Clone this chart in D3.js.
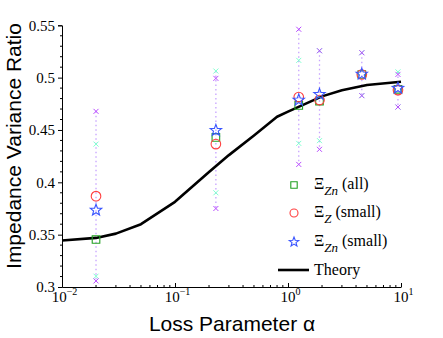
<!DOCTYPE html>
<html lang="en">
<head>
<meta charset="UTF-8">
<title>Impedance Variance Ratio</title>
<script src="https://cdn.jsdelivr.net/npm/d3@7"></script>
<style>
  body { margin: 0; background: #fff; }
  svg text { font-family: "Liberation Serif", "DejaVu Serif", serif; }
  svg text.axis-label { font-family: "Liberation Sans", "DejaVu Sans", sans-serif; }
</style>
</head>
<body>
<svg id="chart" width="443" height="338"></svg>
<script>
// loss parameter alpha for each measured set
var alphas = [0.02, 0.23, 1.245, 1.9, 4.5, 9.4];

// mean ratios
var xiZnAll   = [0.3454, 0.4429, 0.4735, 0.4776, 0.5030, 0.4888];
var xiZSmall  = [0.3868, 0.4365, 0.4814, 0.4786, 0.5030, 0.4881];
var xiZnSmall = [0.3734, 0.4496, 0.4786, 0.4840, 0.5034, 0.4899];

// spread of the samples (crosses)
var cyanHi = [0.4365, 0.5063, 0.5165, 0.5257, 0.5238, 0.5055];
var cyanLo = [0.3103, 0.3900, 0.4372, 0.4398, 0.4828, 0.4719];
var magHi  = [0.4678, 0.4993, 0.5462, 0.5257, 0.5238, 0.5031];
var magLo  = [0.3058, 0.3750, 0.4171, 0.4315, 0.4828, 0.4719];

// theory curve
var theoryAlpha = [0.01, 0.02, 0.03, 0.05, 0.1, 0.2, 0.3, 0.5, 0.8, 1, 2, 3, 5, 10];
var theoryRatio = [0.3444, 0.3469, 0.3510, 0.3600, 0.3814, 0.4098, 0.4260, 0.4447, 0.4626, 0.4675, 0.4821, 0.4879, 0.4929, 0.4961];

var yTicks = [0.3, 0.35, 0.4, 0.45, 0.5, 0.55];
var xTicks = [0.01, 0.1, 1, 10];
var xTickExp = ["\u22122", "\u22121", "0", "1"];

var svg = d3.select("#chart");

var xs = d3.scaleLog().domain([0.01, 10]).range([62, 401]);
var ys = d3.scaleLinear().domain([0.3, 0.55]).range([287, 25.3]);

// y axis, ticks outward
var yAxis = svg.append("g")
    .attr("transform", "translate(62,0)")
    .call(d3.axisLeft(ys).tickValues(yTicks).tickSize(4).tickPadding(3)
        .tickFormat(function(d) { return String(+d.toFixed(2)); }));
yAxis.attr("font-family", null).attr("font-size", 15);
yAxis.selectAll(".tick text").attr("fill", "#000");
yAxis.select(".domain").attr("stroke", "#000");
var yMinor = d3.range(0.31, 0.55, 0.01).filter(function(v) {
    return Math.abs(v * 20 - Math.round(v * 20)) > 1e-6;
});
yAxis.selectAll("line.minor").data(yMinor).enter().append("line")
    .attr("class", "minor")
    .attr("x1", 0).attr("x2", -2)
    .attr("y1", function(d) { return ys(d); })
    .attr("y2", function(d) { return ys(d); })
    .attr("stroke", "#000");

// x axis, ticks inward
var xAxis = svg.append("g")
    .attr("transform", "translate(0,287)")
    .call(d3.axisBottom(xs).tickValues(xTicks).tickSizeInner(-4).tickSizeOuter(0).tickFormat(""));
xAxis.attr("font-family", null).attr("font-size", 15);
xAxis.select(".domain").attr("stroke", "#000");
xAxis.selectAll(".tick text").remove();
var xMinor = [];
[0.01, 0.1, 1].forEach(function(dec) {
    for (var k = 2; k <= 9; k++) xMinor.push(dec * k);
});
xAxis.selectAll("line.minor").data(xMinor).enter().append("line")
    .attr("class", "minor")
    .attr("x1", function(d) { return xs(d); })
    .attr("x2", function(d) { return xs(d); })
    .attr("y1", 0).attr("y2", -2)
    .attr("stroke", "#000");

var xLab = xAxis.selectAll(".tick").append("text")
    .attr("y", 15)
    .attr("x", 2)
    .attr("text-anchor", "middle")
    .attr("fill", "#000");
xLab.append("tspan").text("10");
xLab.append("tspan")
    .attr("font-size", 10)
    .attr("dy", -7)
    .text(function(d, i) { return xTickExp[i]; });

// axis titles
svg.append("text")
    .attr("class", "axis-label")
    .attr("x", 232).attr("y", 331)
    .attr("text-anchor", "middle")
    .attr("font-size", 21)
    .text("Loss Parameter \u03b1");

svg.append("text")
    .attr("class", "axis-label")
    .attr("transform", "translate(20.5,146) rotate(-90)")
    .attr("text-anchor", "middle")
    .attr("font-size", 21)
    .text("Impedance Variance Ratio");

var plot = svg.append("g");

// dotted spread lines
plot.selectAll("line.spread").data(alphas).enter().append("line")
    .attr("class", "spread")
    .attr("x1", function(d) { return xs(d); })
    .attr("x2", function(d) { return xs(d); })
    .attr("y1", function(d, i) { return ys(Math.max(cyanHi[i], magHi[i])); })
    .attr("y2", function(d, i) { return ys(Math.min(cyanLo[i], magLo[i])); })
    .attr("stroke", "#c7a3ff")
    .attr("stroke-width", 1.3)
    .attr("stroke-dasharray", "1.5,3");

// theory curve
var line = d3.line()
    .x(function(d) { return xs(d[0]); })
    .y(function(d) { return ys(d[1]); });
plot.append("path")
    .datum(d3.zip(theoryAlpha, theoryRatio))
    .attr("d", line)
    .attr("fill", "none")
    .attr("stroke", "#000")
    .attr("stroke-width", 2.6)
    .attr("stroke-linejoin", "round");

function crosses(vals, color) {
    plot.append("g").selectAll("path").data(vals).enter().append("path")
        .attr("transform", function(d, i) { return "translate(" + xs(alphas[i]) + "," + ys(d) + ")"; })
        .attr("d", "M-2.5,-2.5L2.5,2.5M-2.5,2.5L2.5,-2.5")
        .attr("stroke", color)
        .attr("stroke-width", 1)
        .attr("fill", "none");
}
crosses(cyanHi, "#7fffd0");
crosses(cyanLo, "#7fffd0");
crosses(magHi, "#b94cff");
crosses(magLo, "#b94cff");

function starPath(r) {
    var pts = [];
    for (var k = 0; k < 10; k++) {
        var rr = k % 2 === 0 ? r : r * 0.42;
        var a = -Math.PI / 2 + k * Math.PI / 5;
        pts.push([rr * Math.cos(a), rr * Math.sin(a)]);
    }
    return "M" + pts.map(function(p) { return p[0].toFixed(2) + "," + p[1].toFixed(2); }).join("L") + "Z";
}

function shapePath(shape, s) {
    if (shape === "square") return "M" + (-s) + "," + (-s) + "h" + (2 * s) + "v" + (2 * s) + "h" + (-2 * s) + "Z";
    if (shape === "circle") return d3.arc()({innerRadius: 0, outerRadius: s, startAngle: 0, endAngle: 2 * Math.PI});
    return starPath(s);
}

function markers(vals, shape, color, size) {
    plot.append("g").selectAll("path").data(vals).enter().append("path")
        .attr("transform", function(d, i) { return "translate(" + xs(alphas[i]) + "," + ys(d) + ")"; })
        .attr("d", shapePath(shape, size))
        .attr("stroke", color)
        .attr("stroke-width", 1.1)
        .attr("fill", "none");
}

markers(xiZnAll, "square", "#22a022", 3.8);
markers(xiZSmall, "circle", "#ff4040", 4.8);
markers(xiZnSmall, "star", "#3a55ff", 6);

// legend
var legend = svg.append("g").attr("font-size", 16);
var legItems = [
    {shape: "square", color: "#22a022", size: 3.2, sub: "Zn", rest: " (all)", y: 185},
    {shape: "circle", color: "#ff4040", size: 4, sub: "Z", rest: " (small)", y: 213},
    {shape: "star", color: "#3a55ff", size: 5, sub: "Zn", rest: " (small)", y: 242}
];
legItems.forEach(function(it) {
    legend.append("path")
        .attr("transform", "translate(294," + it.y + ")")
        .attr("d", shapePath(it.shape, it.size))
        .attr("stroke", it.color)
        .attr("stroke-width", 1.1)
        .attr("fill", "none");
    var t = legend.append("text").attr("x", 314).attr("y", it.y + 4).attr("fill", "#000");
    t.append("tspan").text("\u039e");
    t.append("tspan").attr("font-style", "italic").attr("font-size", 13).attr("dy", 6).text(it.sub);
    t.append("tspan").attr("dy", -6).text(it.rest);
});
legend.append("line")
    .attr("x1", 278).attr("x2", 309)
    .attr("y1", 270).attr("y2", 270)
    .attr("stroke", "#000").attr("stroke-width", 2.6);
legend.append("text").attr("x", 314).attr("y", 275).attr("fill", "#000").text("Theory");
</script>
</body>
</html>
